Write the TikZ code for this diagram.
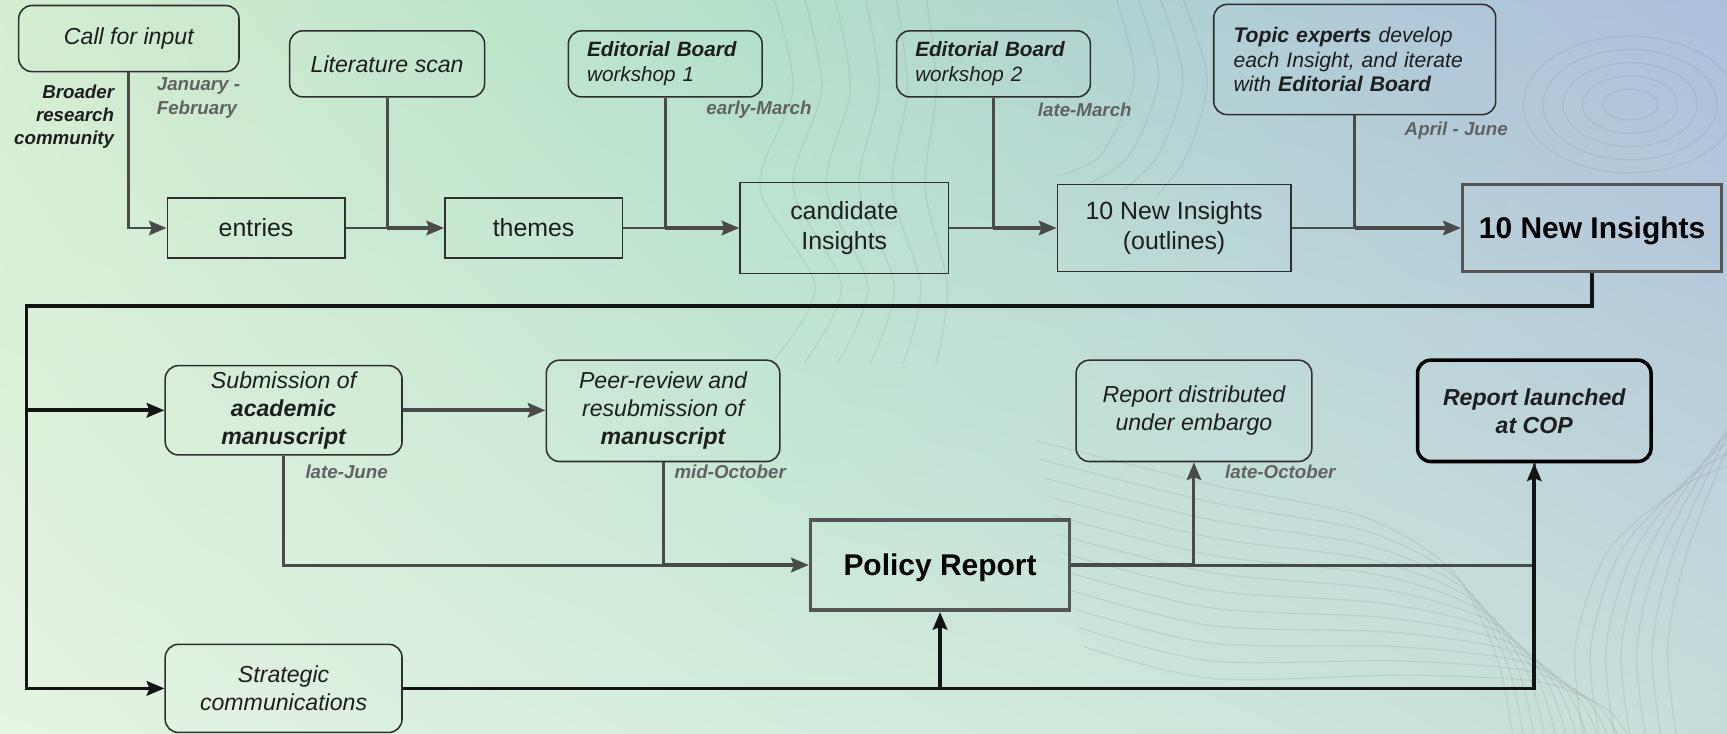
\documentclass[tikz,border=0pt]{standalone}
\usepackage{fontspec}
\setmainfont{Liberation Sans}
\usetikzlibrary{arrows.meta,calc,shadings}
\definecolor{ink}{HTML}{1E1E1E}
\definecolor{datec}{HTML}{626262}
\definecolor{lineg}{HTML}{4A4A4A}
\definecolor{boxb}{HTML}{2E2E2E}
\definecolor{bigb}{HTML}{555555}
\definecolor{bgA}{HTML}{D4EDD1}
\definecolor{bgB}{HTML}{E6F4E3}
\definecolor{bgC}{HTML}{B2DFC9}
\definecolor{bgD}{HTML}{D3ECDC}
\definecolor{bgE}{HTML}{B0CDD6}
\definecolor{bgF}{HTML}{CDE6DB}
\definecolor{bgG}{HTML}{ADBEDC}
\definecolor{bgH}{HTML}{C6DDDA}
\newcommand{\myfs}[2]{\fontsize{#1}{#2}\selectfont}
\tikzset{
  rbox/.style={draw=boxb, line width=0.7pt, rounded corners=6pt, inner sep=0pt, align=center, text=ink, font=\myfs{10.5}{12.75}\itshape},
  ebox/.style={rbox, text width=71pt, inner xsep=8.5pt, align=left, minimum height=30pt, font=\myfs{9.4}{11.5}\itshape},
  sbox/.style={draw=boxb, line width=0.7pt, inner sep=0pt, align=center, text=ink, font=\myfs{11.3}{13.5}},
  bigbox/.style={draw=bigb, line width=1.6pt, inner sep=0pt, text depth=0pt, align=center, text=black, font=\myfs{13.6}{16}\bfseries},
  datelbl/.style={inner sep=0pt, anchor=west, align=left, text=datec, font=\myfs{8.5}{11}\bfseries\itshape},
  gline/.style={draw=lineg, line width=1.35pt},
  gthick/.style={draw=lineg, line width=1.9pt},
  bline/.style={draw=black!92, line width=1.7pt},
  arr/.style={-{Stealth[length=8pt,width=6.5pt,inset=1.2pt]}},
  contour/.style={draw=black!55, opacity=0.14, line width=0.6pt}
}
\begin{document}
\begin{tikzpicture}[x=0.5pt,y=-0.5pt]
\useasboundingbox (0,0) rectangle (1568,666);
% background
\shade[upper left=bgA, lower left=bgB, upper right=bgC, lower right=bgD] (0,0) rectangle (701,666);
\shade[upper left=bgC, lower left=bgD, upper right=bgE, lower right=bgF] (700,0) rectangle (1151,666);
\shade[upper left=bgE, lower left=bgF, upper right=bgG, lower right=bgH] (1150,0) rectangle (1568,666);
% faint contour lines
\begin{scope}
\clip (0,0) rectangle (1568,666);
\foreach \k in {0,...,11} {
  \draw[contour] plot[smooth] coordinates {({940+4*\k},{400+17*\k}) ({1100},{440+16*\k}) ({1240+3*\k},{470+13*\k}) ({1320+7*\k},{520+9*\k}) ({1360+9*\k},{600+4*\k}) ({1375+10*\k},{680})};
}
\foreach \k in {0,...,6} {
  \draw[contour] plot[smooth] coordinates {({1440+14*\k},{680}) ({1430+14*\k},{590}) ({1460+12*\k},{500}) ({1530+8*\k},{440-10*\k}) ({1580},{420-12*\k})};
}
\foreach \k in {0,...,5} {
  \draw[contour] plot[smooth] coordinates {({700+28*\k},{-10}) ({720+26*\k},{80}) ({690+30*\k},{170}) ({740+24*\k},{260}) ({700+30*\k},{330})};
}
\foreach \k in {0,...,4} {
  \draw[contour] (1480,95) ellipse [x radius={25+18*\k}, y radius={14+12*\k}];
}
\foreach \k in {0,...,3} {
  \draw[contour] plot[smooth] coordinates {({1010+20*\k},{-10}) ({1030+22*\k},{70}) ({1000+26*\k},{140}) ({960+30*\k},{160+6*\k})};
}
\end{scope}

% top row inputs
\node[rbox, minimum width=100pt, minimum height=30pt] (call) at (117,35) {Call for input};
\node[rbox, minimum width=88.5pt, minimum height=30pt] (lit) at (351.5,58) {Literature scan};
\node[ebox] (eb1) at (604,58) {\textbf{Editorial Board}\\workshop 1};
\node[ebox] (eb2) at (902,58) {\textbf{Editorial Board}\\workshop 2};
\node[rbox, text width=110pt, inner xsep=9pt, align=left, minimum height=50pt, font=\myfs{9.6}{11.3}\itshape] (topic) at (1230,54) {\textbf{Topic experts} develop\\each Insight, and iterate\\with \textbf{Editorial Board}};

% top row boxes
\node[sbox, minimum width=80.5pt, minimum height=27pt] (entries) at (232.5,207) {entries};
\node[sbox, minimum width=80.5pt, minimum height=27pt] (themes) at (484.5,207) {themes};
\node[sbox, minimum width=94.5pt, minimum height=41.5pt] (cand) at (766.5,207) {candidate\\Insights};
\node[sbox, minimum width=106pt, minimum height=39.5pt] (outl) at (1066,207) {10 New Insights\\(outlines)};
\node[bigbox, minimum width=117.5pt, minimum height=39.5pt] (ten) at (1445.5,207) {10 New Insights};

% labels top
\node[inner sep=0pt, anchor=east, align=right, text=ink, font=\myfs{8.5}{10.5}\bfseries\itshape] (broad) at (104,106) {Broader\\research\\community};
\node[datelbl] (d1) at (142,89) {January -\\February};
\node[datelbl] (d2) at (641,100) {early-March};
\node[datelbl] (d3) at (942,100) {late-March};
\node[datelbl] (d4) at (1275,119) {April - June};

% top connectors
\draw[gline,arr] (call.south) |- (entries.west);
\coordinate (j1) at (lit.south |- themes.west);
\coordinate (j2) at (eb1.south |- cand.west);
\coordinate (j3) at (eb2.south |- outl.west);
\coordinate (j4) at (topic.south |- ten.west);
\draw[gline] (entries.east) -- (j1);
\draw[gthick,arr] (j1) -- (themes.west);
\draw[gline] (lit.south) -- (j1);
\draw[gline] (themes.east) -- (j2);
\draw[gthick,arr] (j2) -- (cand.west);
\draw[gline] (eb1.south) -- (j2);
\draw[gline] (cand.east) -- (j3);
\draw[gthick,arr] (j3) -- (outl.west);
\draw[gline] (eb2.south) -- (j3);
\draw[gline] (outl.east) -- (j4);
\draw[gthick,arr] (j4) -- (ten.west);
\draw[gline] (topic.south) -- (j4);

% second part
\node[rbox, minimum width=107.5pt, minimum height=40.5pt] (sub) at (257.5,372.5) {Submission of\\\textbf{academic}\\\textbf{manuscript}};
\node[rbox, minimum width=106pt, minimum height=46pt] (peer) at (602,373) {Peer-review and\\resubmission of\\\textbf{manuscript}};
\node[rbox, minimum width=107pt, minimum height=46pt] (dist) at (1084,373) {Report distributed\\under embargo};
\node[rbox, draw=black, line width=1.6pt, minimum width=106pt, minimum height=46pt, font=\myfs{10.5}{12.75}\bfseries\itshape] (cop) at (1393,373) {Report launched\\at COP};
\node[bigbox, minimum width=117.5pt, minimum height=41pt] (policy) at (853.5,513) {Policy Report};
\node[rbox, minimum width=107.5pt, minimum height=40pt] (strat) at (257.5,625) {Strategic\\communications};

\node[datelbl] (d5) at (277,428) {late-June};
\node[datelbl] (d6) at (612,428) {mid-October};
\node[datelbl] (d7) at (1112,428) {late-October};

% trunk
\coordinate (trunk) at (24,278);
\draw[bline,arr] (ten.south) |- (trunk) |- (strat.west);
\draw[bline,arr] (trunk |- sub.west) -- (sub.west);

% manuscript flow
\draw[gthick,arr] (sub.east) -- (sub.east -| peer.west);
\coordinate (j5) at (peer.south |- policy.west);
\draw[gline] (sub.south) |- (j5);
\draw[gthick,arr] (j5) -- (policy.west);
\draw[gline] (peer.south) -- (j5);

% outputs
\coordinate (j6) at (dist.south |- policy.east);
\draw[gthick] (policy.east) -- (j6);
\draw[gline] (j6) -| (cop.south);
\draw[gline,arr] (j6) -- (dist.south);
\draw[bline,arr] (strat.east) -| (cop.south);
\draw[bline,arr] (strat.east -| policy.south) -- (policy.south);
\end{tikzpicture}
\end{document}
